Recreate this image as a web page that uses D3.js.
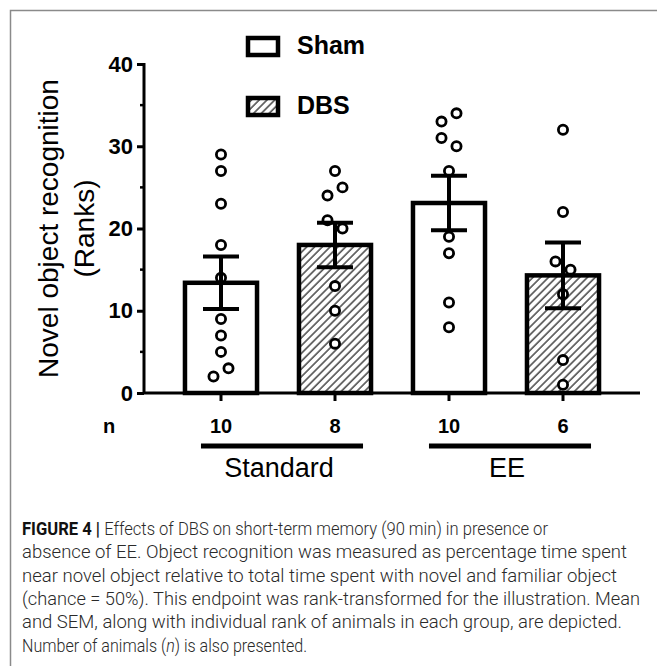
<!DOCTYPE html>
<html><head><meta charset="utf-8">
<script src="https://cdn.jsdelivr.net/npm/d3@7"></script>
<style>html,body{margin:0;padding:0;background:#fff;}svg{display:block;}</style>
</head><body>
<svg id="chart" width="657" height="666"></svg>
<script>
// ---- data ----
const groups = ["Standard Sham", "Standard DBS", "EE Sham", "EE DBS"];
const treatment = ["Sham", "DBS", "Sham", "DBS"];
const means = [13.4, 18.0, 23.1, 14.3];
const sems = [3.2, 2.7, 3.3, 4.0];
const nLabels = ["10", "8", "10", "6"];
const points = [
  [29, 27, 23, 18, 14, 9, 7, 5, 3, 2],
  [27, 25, 24, 21, 20, 13, 10, 6],
  [34, 33, 31, 30, 27, 19, 17, 11, 8],
  [32, 22, 16, 15, 12, 4, 1]
];
const housing = ["Standard", "EE"];
const yTicks = [0, 10, 20, 30, 40];
const yMinorTicks = [5, 15, 25, 35];
const legendItems = ["Sham", "DBS"];
const captionLines = [
  "Effects of DBS on short-term memory (90 min) in presence or",
  "absence of EE. Object recognition was measured as percentage time spent",
  "near novel object relative to total time spent with novel and familiar object",
  "(chance = 50%). This endpoint was rank-transformed for the illustration. Mean",
  "and SEM, along with individual rank of animals in each group, are depicted.",
  "Number of animals (n) is also presented."
];

const svg = d3.select("#chart");
const FONT = "'Liberation Sans', Arial, sans-serif";

// frame
svg.append("path").attr("d", "M10.5,666 V10.5 H657").attr("fill", "none").attr("stroke", "#8a8a8a").attr("stroke-width", 1.5);

// pattern
const defs = svg.append("defs");
const pat = defs.append("pattern").attr("id", "hatch").attr("patternUnits", "userSpaceOnUse")
  .attr("width", 5.5).attr("height", 5.5).attr("patternTransform", "rotate(45)");
pat.append("rect").attr("width", 5.5).attr("height", 5.5).attr("fill", "#fff");
pat.append("line").attr("x1", 1).attr("y1", 0).attr("x2", 1).attr("y2", 5.5).attr("stroke", "#444").attr("stroke-width", 1.5);

const fillFor = t => t === "DBS" ? "url(#hatch)" : "#fff";

// scales
const y = d3.scaleLinear().domain([0, 40]).range([393, 64]);
const x = d3.scaleBand().domain(groups).range([164, 620]).paddingInner(0.368).paddingOuter(0.184);
const bw = x.bandwidth();
const cx = g => x(g) + bw / 2;
const axisX = 144;

// bars
svg.append("g").selectAll("rect").data(groups).join("rect")
  .attr("x", d => x(d)).attr("y", (d, i) => y(means[i]))
  .attr("width", bw).attr("height", (d, i) => y(0) - y(means[i]))
  .attr("fill", (d, i) => fillFor(treatment[i]))
  .attr("stroke", "#000").attr("stroke-width", 4.5);

// points with simple pair dodge
const dodge = 7.5;
const pts = [];
points.forEach((vals, gi) => {
  const sorted = vals.slice().sort((a, b) => b - a);
  let pairIdx = 0;
  for (let k = 0; k < sorted.length; k++) {
    if (k + 1 < sorted.length && sorted[k] - sorted[k + 1] < 1.6) {
      const s = (pairIdx % 2 === 0 ? 1 : -1) * (gi === 3 ? -1 : 1);
      pts.push({ g: groups[gi], v: sorted[k], o: s * dodge });
      pts.push({ g: groups[gi], v: sorted[k + 1], o: -s * dodge });
      pairIdx++; k++;
    } else {
      pts.push({ g: groups[gi], v: sorted[k], o: 0 });
    }
  }
});
svg.append("g").selectAll("circle").data(pts).join("circle")
  .attr("cx", d => cx(d.g) + d.o).attr("cy", d => y(d.v)).attr("r", 4.6)
  .attr("fill", "#fff").attr("stroke", "#000").attr("stroke-width", 2.8);

// error bars
const eb = svg.append("g").attr("stroke", "#000").attr("stroke-width", 4);
groups.forEach((g, i) => {
  const c = cx(g), hi = y(means[i] + sems[i]), lo = y(means[i] - sems[i]);
  eb.append("line").attr("x1", c).attr("x2", c).attr("y1", hi).attr("y2", lo);
  eb.append("line").attr("x1", c - 18).attr("x2", c + 18).attr("y1", hi).attr("y2", hi);
  eb.append("line").attr("x1", c - 18).attr("x2", c + 18).attr("y1", lo).attr("y2", lo);
});

// y axis
const yAxis = svg.append("g").attr("transform", `translate(${axisX},0)`)
  .call(d3.axisLeft(y).tickValues(yTicks).tickSize(7).tickPadding(4).tickFormat(d3.format("d")));
yAxis.select(".domain").remove();
yAxis.append("line").attr("x1", 0).attr("x2", 0).attr("y1", y(40) - 1).attr("y2", y(0)).attr("stroke", "#000").attr("stroke-width", 3);
yAxis.selectAll(".tick line").attr("stroke", "#000").attr("stroke-width", 3);
yAxis.selectAll(".tick text").attr("fill", "#000").attr("font-family", FONT).attr("font-weight", "bold").attr("font-size", 22);
yAxis.selectAll(".minor").data(yMinorTicks).join("line").attr("class", "minor")
  .attr("x1", -4).attr("x2", 0).attr("y1", d => y(d)).attr("y2", d => y(d)).attr("stroke", "#000").attr("stroke-width", 2.5);

// x axis
svg.append("line").attr("x1", axisX).attr("x2", 640).attr("y1", y(0)).attr("y2", y(0)).attr("stroke", "#000").attr("stroke-width", 3);
svg.append("g").selectAll("line").data(groups).join("line")
  .attr("x1", d => cx(d)).attr("x2", d => cx(d)).attr("y1", y(0)).attr("y2", y(0) + 8)
  .attr("stroke", "#000").attr("stroke-width", 3);

// n row
svg.append("text").attr("x", 103).attr("y", 433).text("n")
  .attr("font-family", FONT).attr("font-weight", "bold").attr("font-size", 20);
svg.append("g").selectAll("text").data(groups).join("text")
  .attr("x", d => cx(d)).attr("y", 433).attr("text-anchor", "middle").text((d, i) => nLabels[i])
  .attr("font-family", FONT).attr("font-weight", "bold").attr("font-size", 20);

// housing group lines and labels
housing.forEach((h, hi) => {
  const g0 = groups[hi * 2], g1 = groups[hi * 2 + 1];
  const x0 = x(g0) + 16, x1 = x(g1) + bw - 8;
  svg.append("line").attr("x1", x0).attr("x2", x1).attr("y1", 446).attr("y2", 446).attr("stroke", "#000").attr("stroke-width", 5);
  svg.append("text").attr("x", (cx(g0) + cx(g1)) / 2 + 1).attr("y", 477).attr("text-anchor", "middle").text(h)
    .attr("font-family", FONT).attr("font-size", 27).attr("fill", "#000");
});

// y label
const yl = svg.append("g").attr("font-family", FONT).attr("font-size", 28).attr("text-anchor", "middle");
yl.append("text").attr("transform", `translate(58,${(y(0) + y(40)) / 2}) rotate(-90)`).text("Novel object recognition");
yl.append("text").attr("transform", `translate(94,${(y(0) + y(40)) / 2}) rotate(-90)`).text("(Ranks)");

// legend
const lg = svg.append("g");
legendItems.forEach((t, i) => {
  const top = 38 + i * 60;
  lg.append("rect").attr("x", 248).attr("y", top).attr("width", 30).attr("height", 17)
    .attr("fill", t === "DBS" ? "url(#hatch)" : "#fff").attr("stroke", "#000").attr("stroke-width", 4.5);
  lg.append("text").attr("x", 297).attr("y", top + 16).text(t)
    .attr("font-family", FONT).attr("font-weight", "bold").attr("font-size", 25);
});

// caption
const capEnds = [548, 627, 617, 640, 622, null];
const cap = svg.append("g").attr("font-family", "Roboto, 'Liberation Sans', sans-serif").attr("font-size", 17.5).attr("fill", "#2a2a2a");
captionLines.forEach((line, i) => {
  const yy = 535 + i * 23.3;
  const t = cap.append("text").attr("font-weight", 300);
  if (capEnds[i]) {
    t.attr("x", 22).attr("y", yy).attr("textLength", capEnds[i] - 22).attr("lengthAdjust", "spacingAndGlyphs");
  } else {
    t.attr("transform", `translate(22,${yy}) scale(0.92,1)`);
  }
  if (i === 0) {
    t.append("tspan").attr("font-weight", "bold").attr("fill", "#111").text("FIGURE 4 | ");
    t.append("tspan").text(line);
  } else if (line.includes("(n)")) {
    const parts = line.split("(n)");
    t.append("tspan").text(parts[0] + "(");
    t.append("tspan").attr("font-style", "italic").text("n");
    t.append("tspan").text(")" + parts[1]);
  } else {
    t.text(line);
  }
});
</script>
</body></html>
